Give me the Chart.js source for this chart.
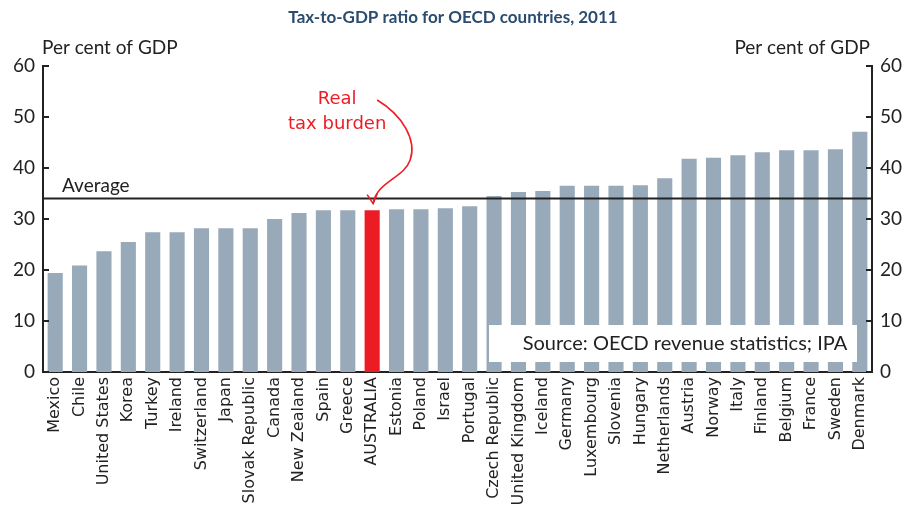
<!DOCTYPE html>
<html>
<head>
<meta charset="utf-8">
<script src="https://cdn.jsdelivr.net/npm/chart.js@4.4.0/dist/chart.umd.min.js"></script>
<style>
  html, body { margin: 0; padding: 0; background: #fff; overflow: hidden; }
  #wrap { position: relative; width: 907px; height: 560px; }
</style>
</head>
<body>
<div id="wrap"><canvas id="taxChart"></canvas></div>
<script>
// countries sorted by tax-to-GDP ratio, 2011
const countries = ['Mexico', 'Chile', 'United States', 'Korea', 'Turkey', 'Ireland', 'Switzerland', 'Japan',
  'Slovak Republic', 'Canada', 'New Zealand', 'Spain', 'Greece', 'AUSTRALIA', 'Estonia', 'Poland', 'Israel',
  'Portugal', 'Czech Republic', 'United Kingdom', 'Iceland', 'Germany', 'Luxembourg', 'Slovenia', 'Hungary',
  'Netherlands', 'Austria', 'Norway', 'Italy', 'Finland', 'Belgium', 'France', 'Sweden', 'Denmark'];
const taxRatio = [19.4, 20.9, 23.7, 25.5, 27.4, 27.4, 28.2, 28.2, 28.2, 30.0, 31.2, 31.7, 31.7, 31.7, 31.9, 31.9, 32.1,
  32.5, 34.5, 35.3, 35.5, 36.5, 36.5, 36.5, 36.6, 38.0, 41.8, 42.0, 42.5, 43.1, 43.5, 43.5, 43.7, 47.1];
const oecdAverage = 34.0;
const highlight = 'AUSTRALIA';
const yTicks = [0, 10, 20, 30, 40, 50, 60];

const barColors = countries.map(c => c === highlight ? '#ed1c24' : '#98a9b9');

// extra drawing: title, unit labels, average line, inner tick marks, annotation, source box
const extras = {
  id: 'extras',
  afterDatasetsDraw(chart) {
    const ctx = chart.ctx;
    const area = chart.chartArea;
    const x = chart.scales.x;
    const y = chart.scales.y;
    ctx.save();

    // title
    ctx.fillStyle = '#2b4c6f';
    ctx.font = 'bold 17px Lato';
    ctx.textAlign = 'center';
    ctx.textBaseline = 'middle';
    ctx.fillText('Tax-to-GDP ratio for OECD countries, 2011', 453, 18);

    // unit labels
    ctx.fillStyle = '#222';
    ctx.font = '19px Lato';
    ctx.textAlign = 'left';
    ctx.fillText('Per cent of GDP', 42, 48);
    ctx.textAlign = 'right';
    ctx.fillText('Per cent of GDP', 870, 48);

    // inner tick marks
    ctx.strokeStyle = '#222';
    ctx.lineWidth = 2;
    yTicks.forEach(v => {
      const py = y.getPixelForValue(v);
      ctx.beginPath();
      ctx.moveTo(area.left, py);
      ctx.lineTo(area.left + 6, py);
      ctx.moveTo(area.right - 6, py);
      ctx.lineTo(area.right, py);
      ctx.stroke();
    });

    // average line
    const avgY = y.getPixelForValue(oecdAverage);
    ctx.beginPath();
    ctx.moveTo(area.left, avgY);
    ctx.lineTo(area.right, avgY);
    ctx.stroke();
    ctx.textAlign = 'left';
    ctx.textBaseline = 'alphabetic';
    ctx.font = '19px Lato';
    ctx.fillText('Average', 62, avgY - 7);

    // annotation
    const ax = x.getPixelForValue(countries.indexOf(highlight));
    const tipY = avgY + 5;
    ctx.fillStyle = '#ed1c24';
    ctx.strokeStyle = '#ed1c24';
    ctx.font = '18px "DejaVu Sans"';
    ctx.textAlign = 'center';
    ctx.fillText('Real', ax - 35, 104);
    ctx.fillText('tax burden', ax - 35, 129);
    ctx.lineWidth = 1.6;
    ctx.beginPath();
    ctx.moveTo(ax + 5, 100);
    ctx.bezierCurveTo(ax + 30, 115, ax + 45, 140, ax + 38, 160);
    ctx.bezierCurveTo(ax + 32, 178, ax + 4, 182, ax + 1, tipY);
    ctx.stroke();
    ctx.beginPath();
    ctx.moveTo(ax - 5, tipY - 9);
    ctx.lineTo(ax + 1, tipY);
    ctx.lineTo(ax + 5, tipY - 10);
    ctx.stroke();

    // source box
    ctx.fillStyle = '#fff';
    ctx.fillRect(489, 325, 368, 37);
    ctx.fillStyle = '#222';
    ctx.font = '20px Lato';
    ctx.textBaseline = 'middle';
    ctx.fillText('Source: OECD revenue statistics; IPA', 685, 344);

    ctx.restore();
  }
};

new Chart(document.getElementById('taxChart'), {
  type: 'bar',
  data: {
    labels: countries,
    datasets: [{
      data: taxRatio,
      backgroundColor: barColors,
      categoryPercentage: 1,
      barPercentage: 0.62,
      yAxisID: 'y'
    }]
  },
  options: {
    responsive: true,
    maintainAspectRatio: false,
    animation: false,
    layout: { padding: { top: 66 } },
    plugins: {
      legend: { display: false },
      tooltip: { enabled: false }
    },
    scales: {
      x: {
        grid: { display: false, drawTicks: false },
        border: { display: true, color: '#222', width: 2 },
        ticks: {
          minRotation: 90, maxRotation: 90, autoSkip: false, padding: 5,
          color: '#222', font: { family: 'DejaVu Sans', size: 16 }
        },
        afterFit(scale) { scale.height = 560 - 372; }
      },
      y: {
        position: 'left',
        min: 0, max: 60,
        grid: { display: false, drawTicks: false },
        border: { display: true, color: '#222', width: 2 },
        ticks: { stepSize: 10, padding: 8, color: '#222', font: { family: 'Lato', size: 19 } },
        afterFit(scale) { scale.width = 43; }
      },
      y2: {
        position: 'right',
        min: 0, max: 60,
        grid: { display: false, drawTicks: false },
        border: { display: true, color: '#222', width: 2 },
        ticks: { stepSize: 10, padding: 8, color: '#222', font: { family: 'Lato', size: 19 } },
        afterFit(scale) { scale.width = 35; }
      }
    }
  },
  plugins: [extras]
});
</script>
</body>
</html>
